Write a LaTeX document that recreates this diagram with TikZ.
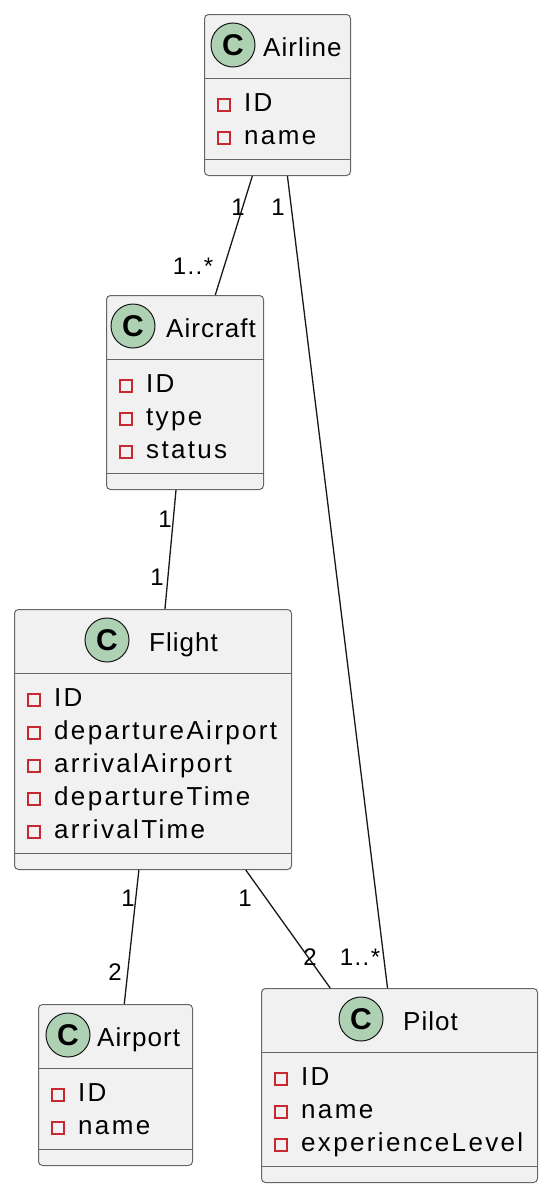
\documentclass[tikz,border=0pt]{standalone}
\usepackage{fontspec}
\setmainfont{Liberation Sans}
\newfontfamily\attrfont{Liberation Sans}[LetterSpace=9]
\newfontfamily\titlefont{Liberation Sans}[LetterSpace=4]
\newfontfamily\multfont{Liberation Sans}[LetterSpace=6]
\newfontfamily\cfont{Liberation Sans}
\definecolor{boxfill}{HTML}{F1F1F1}
\definecolor{boxline}{HTML}{666666}
\definecolor{lineblack}{HTML}{181818}
\definecolor{cgreen}{HTML}{ADD1B2}
\definecolor{attrred}{HTML}{C82930}
\tikzset{
  classbox/.style={draw=boxline, fill=boxfill, rounded corners=4pt, line width=1pt, inner sep=0pt, rectangle},
  sepline/.style={draw=boxline, line width=1pt},
  attrsq/.style={rectangle, draw=attrred, line width=1.5pt, minimum size=12pt, inner sep=0pt},
  attrtext/.style={font=\attrfont\fontsize{26}{30}\selectfont, inner sep=0pt, text=black},
  cbadge/.style={circle, draw=lineblack, fill=cgreen, line width=1pt, minimum size=44pt, inner sep=0pt, font=\cfont\fontsize{30}{32}\selectfont\bfseries},
  titletext/.style={font=\titlefont\fontsize{26}{30}\selectfont, inner sep=0pt, text=black},
  mult/.style={font=\multfont\fontsize{24}{28}\selectfont, inner sep=0pt, text=black},
  assoc/.style={draw=lineblack, line width=1.3pt},
}
% #1 name, #2 left, #3 top, #4 width, #5 rows, #6 circle x offset, #7 title x offset, #8 title, #9 attributes
\newcommand\umlclass[9]{%
  \pgfmathsetmacro\clsh{95+33*#5}
  \node[classbox, minimum width=#4pt, minimum height=\clsh pt, anchor=north west] (#1) at (#2,#3) {};
  \draw[sepline] (#2,#3+64) -- (#2+#4,#3+64);
  \draw[sepline] (#2,#3+\clsh-16) -- (#2+#4,#3+\clsh-16);
  \node[cbadge] (#1-c) at (#2+#6,#3+31) {C};
  \node[titletext, anchor=base west] (#1-t) at (#2+#7,#3+42) {#8};
  \foreach \a [count=\i] in {#9} {
    \pgfmathsetmacro\yy{#3+89+33*(\i-1)}
    \node[attrsq] (#1-sq\i) at (#2+20,\yy+2) {};
    \node[attrtext, anchor=base west] (#1-a\i) at (#2+40,\yy+8.5) {\a};
  }
}
\begin{document}
\begin{tikzpicture}[x=1pt, y=-1pt]
\useasboundingbox (0,0) rectangle (550,1194);
\umlclass{airline}{204}{14}{146}{2}{29}{59}{Airline}{ID,name}
\umlclass{aircraft}{106}{295}{157}{3}{27}{60}{Aircraft}{ID,type,status}
\umlclass{flight}{14}{609}{277}{5}{93}{135}{Flight}{ID,departureAirport,arrivalAirport,departureTime,arrivalTime}
\umlclass{airport}{38}{1004}{154}{2}{30}{59}{Airport}{ID,name}
\umlclass{pilot}{261}{988}{276}{3}{100}{142}{Pilot}{ID,name,experienceLevel}

\draw[assoc] (airline) -- (aircraft);
\draw[assoc] (airline) -- (pilot);
\draw[assoc] (aircraft) -- (flight);
\draw[assoc] (flight) -- (airport);
\draw[assoc] (flight) -- (pilot);

\node[mult] (m1) at (238,207) {1};
\node[mult] (m2) at (193,266) {1..*};
\node[mult] (m3) at (278,207) {1};
\node[mult] (m4) at (360,957) {1..*};
\node[mult] (m5) at (165,519) {1};
\node[mult] (m6) at (157,577) {1};
\node[mult] (m7) at (128,898) {1};
\node[mult] (m8) at (115,972) {2};
\node[mult] (m9) at (245,898) {1};
\node[mult] (m10) at (310,957) {2};
\end{tikzpicture}
\end{document}
